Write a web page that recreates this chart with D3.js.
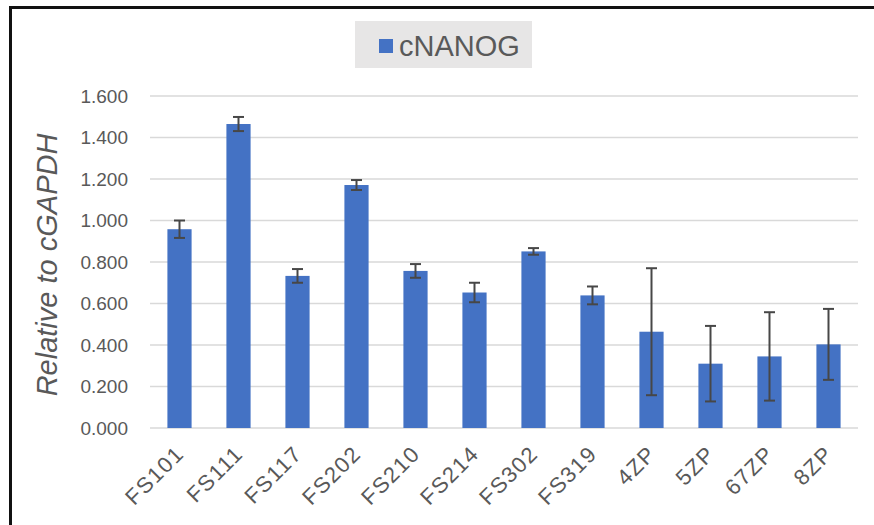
<!DOCTYPE html>
<meta charset="utf-8">
<style>
body { margin: 0; background: #fff; }
text { font-family: "Liberation Sans", Arial, sans-serif; }
</style>
<body>
<script src="https://d3js.org/d3.v7.min.js"></script>
<script>

// data
var categories = ["FS101", "FS111", "FS117", "FS202", "FS210", "FS214", "FS302", "FS319", "4ZP", "5ZP", "67ZP", "8ZP"];
var values = [0.958, 1.465, 0.733, 1.171, 0.757, 0.653, 0.851, 0.639, 0.464, 0.310, 0.345, 0.403];
var errors = [0.042, 0.034, 0.033, 0.024, 0.033, 0.047, 0.016, 0.043, 0.306, 0.182, 0.213, 0.171];
var yTicks = [0, 0.2, 0.4, 0.6, 0.8, 1.0, 1.2, 1.4, 1.6];
var seriesName = "cNANOG";

var W = 874, H = 525;
var margin = {top: 96, right: 16, bottom: 97, left: 150},
    width = W - margin.left - margin.right,
    height = H - margin.top - margin.bottom;

var svg = d3.select("body").append("svg")
    .attr("width", W)
    .attr("height", H);

// frame (top and left edges only visible)
svg.append("line")
    .attr("x1", 9).attr("x2", W).attr("y1", 7.5).attr("y2", 7.5)
    .attr("stroke", "#111").attr("stroke-width", 3);
svg.append("line")
    .attr("x1", 10.5).attr("x2", 10.5).attr("y1", 6).attr("y2", H)
    .attr("stroke", "#111").attr("stroke-width", 3);

var g = svg.append("g")
    .attr("transform", "translate(" + margin.left + "," + margin.top + ")");

var x = d3.scaleBand()
    .domain(categories)
    .range([0, width])
    .paddingInner(0.59)
    .paddingOuter(0.295);

var y = d3.scaleLinear()
    .domain([0, 1.6])
    .range([height, 0]);

// gridlines
g.selectAll(".grid")
    .data(yTicks)
  .enter().append("line")
    .attr("x1", 0).attr("x2", width)
    .attr("y1", function(d) { return y(d); })
    .attr("y2", function(d) { return y(d); })
    .attr("stroke", "#d9d9d9")
    .attr("stroke-width", 1.5);

// y axis labels
var yAxis = g.append("g")
    .call(d3.axisLeft(y).tickValues(yTicks).tickFormat(d3.format(".3f")).tickSize(0).tickPadding(22));
yAxis.select(".domain").remove();
yAxis.selectAll("text")
    .style("font-family", "'Liberation Sans', Arial, sans-serif")
    .style("font-size", "19px")
    .attr("fill", "#595959");

// bars
g.selectAll(".bar")
    .data(values)
  .enter().append("rect")
    .attr("class", "bar")
    .attr("x", function(d, i) { return x(categories[i]); })
    .attr("width", x.bandwidth())
    .attr("y", function(d) { return y(d); })
    .attr("height", function(d) { return height - y(d); })
    .attr("fill", "#4472c4");

// error bars
var cap = 5.5;
var eb = g.selectAll(".err")
    .data(values)
  .enter().append("g")
    .attr("transform", function(d, i) {
      return "translate(" + (x(categories[i]) + x.bandwidth() / 2) + ",0)";
    });
eb.append("line")
    .attr("x1", 0).attr("x2", 0)
    .attr("y1", function(d, i) { return y(d + errors[i]); })
    .attr("y2", function(d, i) { return y(d - errors[i]); });
eb.append("line")
    .attr("x1", -cap).attr("x2", cap)
    .attr("y1", function(d, i) { return y(d + errors[i]); })
    .attr("y2", function(d, i) { return y(d + errors[i]); });
eb.append("line")
    .attr("x1", -cap).attr("x2", cap)
    .attr("y1", function(d, i) { return y(d - errors[i]); })
    .attr("y2", function(d, i) { return y(d - errors[i]); });
eb.selectAll("line")
    .attr("stroke", "#474747")
    .attr("stroke-width", 2);

// x axis labels, rotated
var xAxis = g.append("g")
    .attr("transform", "translate(0," + height + ")")
    .call(d3.axisBottom(x).tickSize(0).tickPadding(0));
xAxis.select(".domain").remove();
xAxis.selectAll("text")
    .style("font-family", "'Liberation Sans', Arial, sans-serif")
    .style("font-size", "22px")
    .style("letter-spacing", "1.5px")
    .attr("fill", "#595959")
    .style("text-anchor", "end")
    .attr("dx", 0).attr("dy", 0)
    .attr("transform", "translate(6,27) rotate(-45)");

// y axis title
svg.append("text")
    .attr("transform", "translate(57," + (margin.top + height / 2 + 3) + ") rotate(-90)")
    .attr("text-anchor", "middle")
    .style("font-size", "29px")
    .style("font-style", "italic")
    .attr("fill", "#595959")
    .text("Relative to cGAPDH");

// legend
var lg = svg.append("g").attr("transform", "translate(355,21)");
lg.append("rect")
    .attr("width", 177).attr("height", 47)
    .attr("fill", "#e7e6e6");
lg.append("rect")
    .attr("x", 24).attr("y", 18).attr("width", 14).attr("height", 14)
    .attr("fill", "#4472c4");
lg.append("text")
    .attr("x", 44).attr("y", 35)
    .style("font-size", "29px")
    .attr("fill", "#595959")
    .text(seriesName);

</script>
</body>
